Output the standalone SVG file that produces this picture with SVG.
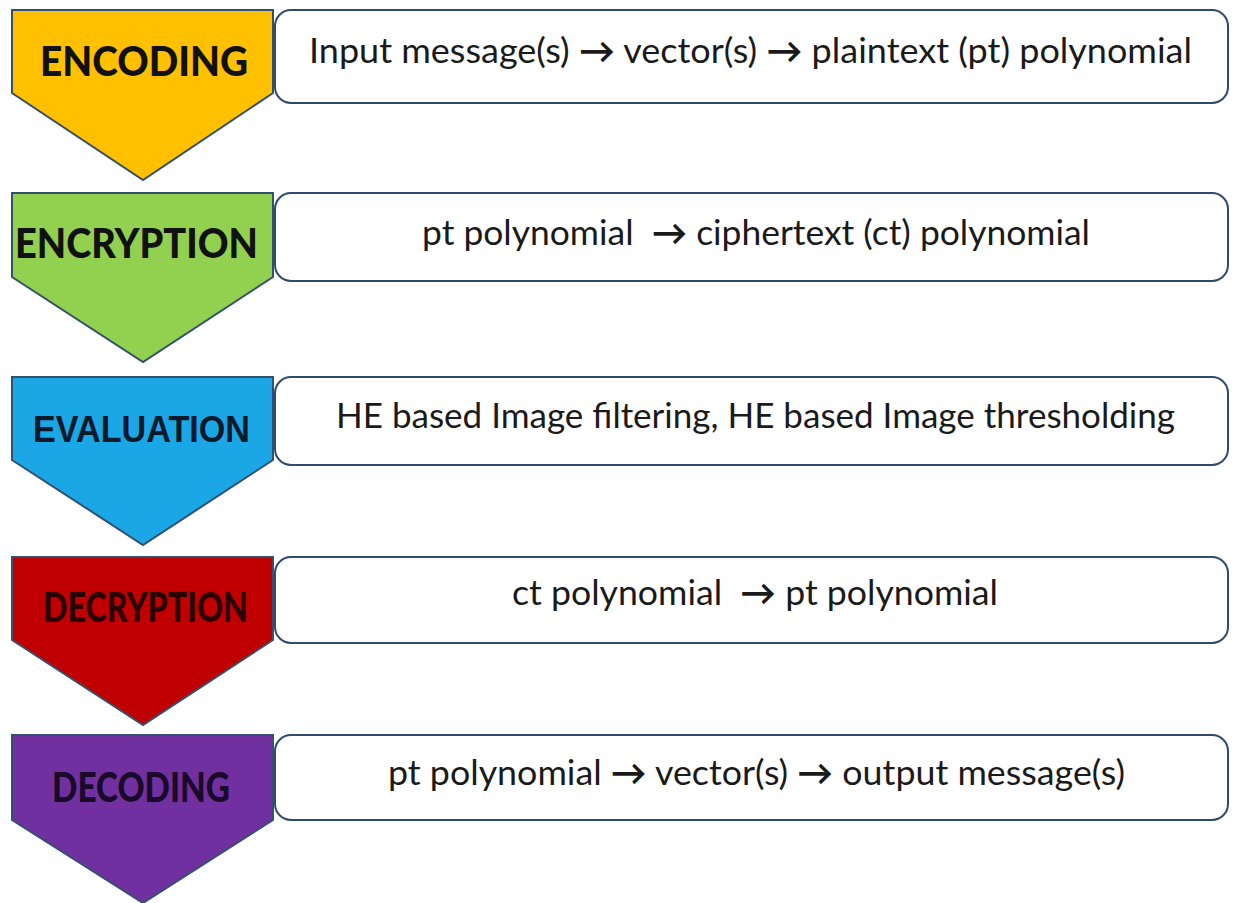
<svg xmlns="http://www.w3.org/2000/svg" width="1239" height="903" viewBox="0 0 1239 903">
<style>
.chev{stroke:#34506e;stroke-width:2;stroke-linejoin:miter}
.box{fill:#fff;stroke:#2f4a70;stroke-width:2}
.lbl{font-family:Lato,"Open Sans","Liberation Sans",sans-serif;font-weight:900;font-size:41px;fill:#111}
.lblA{font-family:"Liberation Sans",Arial,sans-serif;font-weight:bold;font-size:37px;fill:#0a1a2a}
.txt{font-family:Lato,"Open Sans","Liberation Sans",sans-serif;font-size:35px;fill:#1a1a1a;white-space:pre}
.ar{font-weight:bold}
</style>
<rect width="1239" height="903" fill="#fff"/>
<g id="encoding">
<polygon class="chev" fill="#FFC000" points="12,10 273,10 273,93 143,180 12,93"/>
<text class="lbl" x="40" y="76" textLength="208" lengthAdjust="spacingAndGlyphs">ENCODING</text>
<rect class="box" x="275" y="10" width="953" height="93" rx="16"/>
<text class="txt" x="309" y="63" textLength="883" lengthAdjust="spacingAndGlyphs">Input message(s) <tspan class="ar">→</tspan> vector(s) <tspan class="ar">→</tspan> plaintext (pt) polynomial</text>
</g>
<g id="encryption">
<polygon class="chev" fill="#92D050" points="12,193 273,193 273,277 143,362 12,277"/>
<text class="lbl" x="15" y="258" textLength="243" lengthAdjust="spacingAndGlyphs">ENCRYPTION</text>
<rect class="box" x="275" y="193" width="953" height="88" rx="16"/>
<text class="txt" x="422" y="245" textLength="668" lengthAdjust="spacingAndGlyphs">pt polynomial  <tspan class="ar">→</tspan> ciphertext (ct) polynomial</text>
</g>
<g id="evaluation">
<polygon class="chev" fill="#1BA6E6" points="12,377 273,377 273,460 143,545 12,460"/>
<text class="lblA" x="33" y="442" textLength="217" lengthAdjust="spacingAndGlyphs">EVALUATION</text>
<rect class="box" x="275" y="377" width="953" height="88" rx="16"/>
<text class="txt" x="336" y="428" textLength="839" lengthAdjust="spacingAndGlyphs">HE based Image filtering, HE based Image thresholding</text>
</g>
<g id="decryption">
<polygon class="chev" fill="#C00000" points="12,557 273,557 273,640 143,725 12,640"/>
<text class="lbl" x="43" y="622" textLength="205" lengthAdjust="spacingAndGlyphs" style="fill:#2a0000">DECRYPTION</text>
<rect class="box" x="275" y="557" width="953" height="86" rx="16"/>
<text class="txt" x="512" y="605" textLength="486" lengthAdjust="spacingAndGlyphs">ct polynomial  <tspan class="ar">→</tspan> pt polynomial</text>
</g>
<g id="decoding">
<polygon class="chev" fill="#7030A0" points="12,735 273,735 273,820 143,903 12,820"/>
<text class="lbl" x="52" y="802" textLength="178" lengthAdjust="spacingAndGlyphs" style="fill:#1a0a2a">DECODING</text>
<rect class="box" x="275" y="735" width="953" height="85" rx="16"/>
<text class="txt" x="388" y="785" textLength="737" lengthAdjust="spacingAndGlyphs">pt polynomial <tspan class="ar">→</tspan> vector(s) <tspan class="ar">→</tspan> output message(s)</text>
</g>
</svg>
